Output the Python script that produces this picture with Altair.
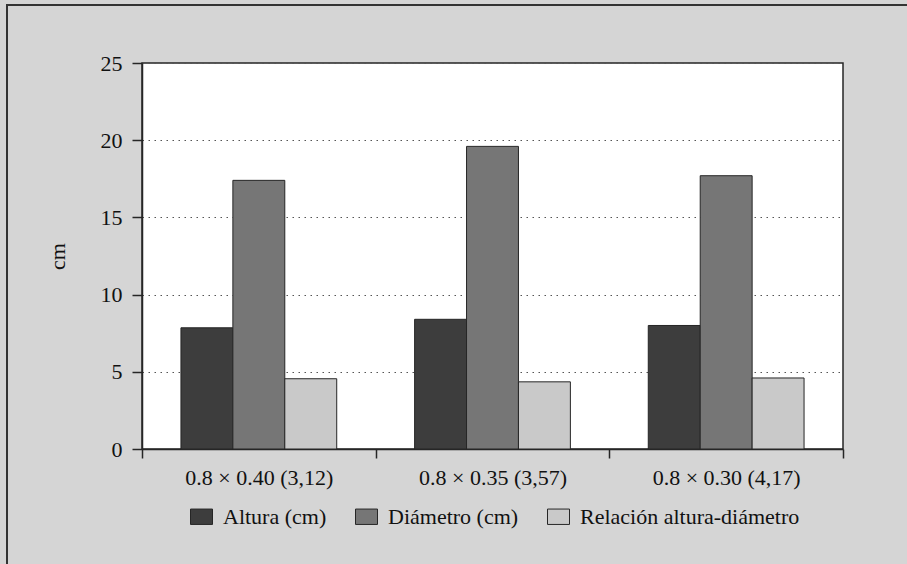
import altair as alt
import pandas as pd

# Treatments (plot spacing, with ratio) on the x axis
groups = ["0.8 × 0.40 (3,12)", "0.8 × 0.35 (3,57)", "0.8 × 0.30 (4,17)"]
series = ["Altura (cm)", "Diámetro (cm)", "Relación altura-diámetro"]

altura = [7.85, 8.4, 8.0]
diametro = [17.4, 19.6, 17.7]
relacion = [4.55, 4.35, 4.6]

colors = ["#3d3d3d", "#767676", "#c9c9c9"]
FONT = "Liberation Serif"
FS = 22

rows = []
for name, vals in zip(series, [altura, diametro, relacion]):
    for g, v in zip(groups, vals):
        rows.append({"grupo": g, "serie": name, "valor": v})
df = pd.DataFrame(rows)

bars = alt.Chart(df).mark_bar(stroke="#262626", strokeWidth=1).encode(
    x=alt.X(
        "grupo:N",
        sort=groups,
        title=None,
        scale=alt.Scale(paddingInner=0, paddingOuter=0),
        axis=alt.Axis(
            labelAngle=0,
            tickBand="extent",
            tickSize=9,
            tickColor="#262626",
            tickWidth=1.5,
            domainColor="#262626",
            domainWidth=1.5,
            labelFont=FONT,
            labelFontSize=FS,
            labelColor="#111111",
            labelPadding=9,
            grid=False,
        ),
    ),
    xOffset=alt.XOffset(
        "serie:N",
        sort=series,
        scale=alt.Scale(paddingInner=0, paddingOuter=0.75),
    ),
    y=alt.Y(
        "valor:Q",
        title="cm",
        scale=alt.Scale(domain=[0, 25], nice=False),
        axis=alt.Axis(
            values=[0, 5, 10, 15, 20, 25],
            tickSize=10,
            tickColor="#262626",
            tickWidth=1.5,
            domainColor="#262626",
            domainWidth=1.5,
            labelFont=FONT,
            labelFontSize=FS,
            labelColor="#111111",
            labelPadding=10,
            titleFont=FONT,
            titleFontSize=FS,
            titleFontWeight="normal",
            titleColor="#111111",
            titlePadding=31,
            grid=True,
            gridColor="#555555",
            gridDash=[1.5, 4.5],
            gridWidth=1.2,
        ),
    ),
    color=alt.Color(
        "serie:N",
        sort=series,
        scale=alt.Scale(domain=series, range=colors),
        legend=alt.Legend(
            title=None,
            orient="none",
            direction="horizontal",
            legendX=48,
            legendY=442,
            symbolType="M-1,-0.7H1V0.7H-1Z",
            symbolSize=484,
            symbolStrokeColor="#262626",
            symbolStrokeWidth=1,
            symbolOpacity=1,
            labelFont=FONT,
            labelFontSize=FS,
            labelColor="#111111",
            labelOffset=10,
            columnPadding=26,
            labelLimit=400,
        ),
    ),
)

# Outer frame around the figure
frame = alt.Chart(pd.DataFrame({"k": [0]})).mark_rect(
    fill="transparent", stroke="#333333", strokeWidth=2
).encode(
    x=alt.value(-135),
    x2=alt.value(820),
    y=alt.value(-58),
    y2=alt.value(560),
)

chart = alt.layer(frame, bars).properties(
    width=701,
    height=386,
    autosize=alt.AutoSizeParams(type="none"),
    padding={"left": 142, "top": 63, "right": 64, "bottom": 115},
    background="#d5d5d5",
).configure_view(
    fill="white",
    stroke="#262626",
    strokeWidth=1.5,
)

chart.save("out.html", embed_options={"renderer": "svg", "actions": False})
